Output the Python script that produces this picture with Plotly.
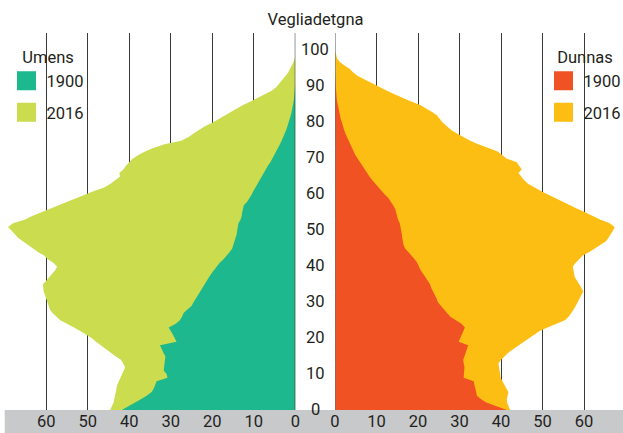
import plotly.graph_objects as go

# ---- data ----
ages = list(range(0, 101))

men_1900 = [41.8, 40.2, 38.7, 37.2, 35.8, 34.6, 34.1, 33.8, 33.4, 30.8,
            31.0, 31.7, 31.6, 31.4, 31.4, 31.3, 31.8, 32.2, 32.6, 28.6,
            29.0, 29.5, 30.0, 30.5, 28.8, 27.8, 27.3, 26.9, 26.0, 25.0,
            24.5, 24.0, 23.4, 23.0, 22.3, 21.8, 21.3, 20.8, 20.2, 19.5,
            19.0, 18.2, 17.3, 16.5, 15.8, 15.2, 14.9, 14.6, 14.3, 14.1,
            14.0, 13.8, 13.7, 13.2, 12.9, 12.8, 12.6, 12.4, 11.6, 11.0,
            10.5, 10.1, 9.6, 9.1, 8.7, 8.2, 7.8, 7.2, 6.6, 6.0,
            5.5, 5.0, 4.6, 4.2, 3.7, 3.3, 2.9, 2.5, 2.2, 1.9,
            1.6, 1.3, 1.1, 0.9, 0.7, 0.5, 0.4, 0.3, 0.2, 0.1,
            0.0, 0.0, 0.0, 0.0, 0.0, 0.0, 0.0, 0.0, 0.0, 0.0, 0.0]

men_2016 = [44.6, 44.2, 43.8, 43.6, 43.4, 43.3, 43.1, 42.9, 42.5, 42.0,
            41.7, 41.3, 41.0, 41.5, 42.0, 43.3, 44.5, 45.8, 47.0, 48.0,
            49.0, 50.3, 51.8, 53.3, 55.0, 56.6, 57.5, 58.5, 59.1, 59.4,
            59.8, 60.1, 60.4, 60.6, 60.7, 60.8, 60.0, 59.2, 58.4, 57.8,
            57.4, 58.3, 59.6, 60.5, 62.0, 63.2, 64.5, 65.7, 66.8, 67.6,
            68.3, 69.2, 68.0, 65.2, 63.4, 61.3, 59.2, 56.8, 54.8, 52.8,
            50.5, 48.5, 46.0, 44.5, 43.4, 42.2, 42.4, 41.4, 40.8, 40.0,
            39.2, 37.8, 36.2, 34.2, 31.5, 27.5, 25.7, 24.5, 23.3, 21.8,
            20.0, 18.5, 17.2, 15.6, 14.0, 12.5, 10.6, 8.8, 7.0, 5.6,
            4.5, 3.8, 3.0, 2.3, 1.7, 1.3, 0.8, 0.4, 0.1, 0.05, 0.0]

women_1900 = [41.4, 38.8, 36.6, 35.2, 34.2, 34.0, 33.8, 33.6, 33.4, 31.0,
              31.1, 31.2, 31.2, 31.0, 30.9, 31.2, 31.5, 31.8, 32.1, 29.8,
              30.2, 30.6, 31.0, 31.3, 30.5, 29.0, 27.8, 27.0, 26.3, 25.5,
              24.8, 24.5, 24.0, 23.6, 23.2, 22.9, 22.4, 21.8, 21.2, 20.6,
              20.2, 19.8, 19.2, 18.4, 17.5, 16.9, 16.5, 16.3, 16.2, 16.1,
              15.9, 15.8, 15.6, 15.2, 15.0, 14.8, 14.5, 14.0, 13.5, 12.9,
              12.0, 11.2, 10.4, 9.7, 9.0, 8.3, 7.7, 7.1, 6.5, 5.9,
              5.4, 4.9, 4.5, 4.1, 3.6, 3.2, 2.8, 2.5, 2.2, 2.0,
              1.7, 1.4, 1.2, 1.0, 0.8, 0.7, 0.5, 0.4, 0.3, 0.25,
              0.2, 0.15, 0.1, 0.0, 0.0, 0.0, 0.0, 0.0, 0.0, 0.0, 0.0]

women_2016 = [42.2, 41.8, 41.5, 41.4, 41.6, 41.8, 41.3, 40.8, 40.3, 39.9,
              39.8, 39.6, 39.5, 39.4, 40.0, 40.9, 41.8, 43.0, 44.2, 45.6,
              46.8, 48.0, 49.3, 51.2, 53.5, 55.4, 56.3, 57.0, 57.5, 58.0,
              58.5, 58.9, 59.3, 59.8, 59.4, 58.8, 58.2, 57.8, 57.6, 57.4,
              57.3, 58.0, 58.8, 59.7, 61.3, 62.6, 64.0, 65.3, 65.9, 66.5,
              67.0, 67.4, 66.2, 64.0, 62.0, 60.4, 58.5, 56.6, 54.8, 53.0,
              51.3, 49.6, 48.0, 46.5, 45.6, 45.0, 44.2, 45.0, 44.5, 43.8,
              41.4, 40.2, 39.2, 37.0, 34.5, 32.6, 30.8, 29.4, 28.0, 26.9,
              26.0, 25.3, 24.6, 23.4, 21.8, 20.4, 18.2, 16.0, 14.2, 12.4,
              10.7, 8.8, 7.0, 5.5, 4.4, 3.6, 2.2, 1.1, 0.5, 0.2, 0.05]

x_ticks = [0, 10, 20, 30, 40, 50, 60, 70]
x_tick_labels = ["0", "10", "20", "30", "40", "50", "60", ""]
age_ticks = [0, 10, 20, 30, 40, 50, 60, 70, 80, 90, 100]

title_text = "Vegliadetgna"
men_title = "Umens"
women_title = "Dunnas"
years = ["1900", "2016"]

# ---- styles ----
FONT = "Roboto, sans-serif"
FS = 16.5
TXT = "#231f20"
C_MEN = {"1900": "#1db88e", "2016": "#cbdc4f"}
C_WOMEN = {"1900": "#f05223", "2016": "#fdbe14"}
GRID = "#3a3a3a"
W, H = 623, 433
ML, MR, MT, MB = 0, 0, 33, 23

fig = go.Figure()

men_series = {"1900": men_1900, "2016": men_2016}
women_series = {"1900": women_1900, "2016": women_2016}
for yr in ["2016", "1900"]:
    fig.add_trace(go.Scatter(x=men_series[yr], y=ages, mode="lines", fill="tozerox",
                             fillcolor=C_MEN[yr], line=dict(width=0, color=C_MEN[yr]),
                             xaxis="x", yaxis="y", showlegend=False, hoverinfo="skip"))
    fig.add_trace(go.Scatter(x=women_series[yr], y=ages, mode="lines", fill="tozerox",
                             fillcolor=C_WOMEN[yr], line=dict(width=0, color=C_WOMEN[yr]),
                             xaxis="x2", yaxis="y2", showlegend=False, hoverinfo="skip"))

# legend entries (square swatches)
for yr in years:
    fig.add_trace(go.Scatter(x=[None], y=[None], mode="markers", name=yr,
                             marker=dict(symbol="square", size=16, color=C_MEN[yr],
                                         line=dict(width=3, color=C_MEN[yr])),
                             legend="legend", legendgroup="m" + yr, xaxis="x", yaxis="y"))
    fig.add_trace(go.Scatter(x=[None], y=[None], mode="markers", name=yr,
                             marker=dict(symbol="square", size=16, color=C_WOMEN[yr],
                                         line=dict(width=3, color=C_WOMEN[yr])),
                             legend="legend2", legendgroup="w" + yr, xaxis="x2", yaxis="y2"))

plot_h = H - MT - MB
left_dom = [4.7 / W, 295.3 / W]
right_dom = [335.0 / W, 1.0]
right_max = (W - 335.0) / 4.15

axis_common = dict(tickvals=x_ticks, ticktext=x_tick_labels, showgrid=True, gridcolor=GRID,
                   gridwidth=1, zeroline=False, showline=False, ticks="", automargin=False,
                   ticklabelstandoff=-1,
                   tickfont=dict(family=FONT, size=FS, color=TXT), fixedrange=True)

legend_common = dict(xanchor="left", yref="container", xref="container",
                     y=1 - 42 / H, yanchor="top", bgcolor="rgba(0,0,0,0)",
                     font=dict(family=FONT, size=FS, color=TXT),
                     tracegroupgap=7, indentation=0, itemclick=False, itemdoubleclick=False)
title_font = dict(family=FONT, size=FS, color=TXT)

fig.update_layout(
    width=W, height=H,
    margin=dict(l=ML, r=MR, t=MT, b=MB, pad=0, autoexpand=False),
    paper_bgcolor="white", plot_bgcolor="rgba(0,0,0,0)",
    font=dict(family=FONT, size=FS, color=TXT),
    title=dict(text=title_text, x=315.5 / W, xanchor="center", xref="paper",
               y=1 - 19.5 / H, yanchor="middle", yref="container", font=title_font),
    xaxis=dict(domain=left_dom, range=[70, 0], anchor="y", **axis_common),
    xaxis2=dict(domain=right_dom, range=[0, right_max], anchor="y2", **axis_common),
    yaxis=dict(range=[0, 105], visible=False, fixedrange=True),
    yaxis2=dict(range=[0, 105], visible=False, anchor="x2", matches="y", fixedrange=True),
    legend=dict(title=dict(text=men_title, font=title_font, side="top center"),
                x=6.5 / W, **legend_common),
    legend2=dict(title=dict(text=women_title, font=title_font, side="top center"),
                 x=543.5 / W, **legend_common),
    shapes=[
        dict(type="rect", xref="paper", yref="paper", x0=4.7 / W, x1=1.0,
             y0=-(MB + 2) / plot_h, y1=0, fillcolor="#c8c9cb", line=dict(width=0), layer="below"),
        dict(type="line", xref="x", yref="paper", x0=0, x1=0, y0=0, y1=1,
             line=dict(color="#111111", width=1), layer="above"),
        dict(type="line", xref="x2", yref="paper", x0=0, x1=0, y0=0, y1=1,
             line=dict(color="#6e6e6e", width=1.2), layer="above"),
    ],
    showlegend=True,
)

# age labels between the two panels
for a in age_ticks:
    fig.add_annotation(x=315 / W, xref="paper", y=a, yref="y2", text=str(a),
                       showarrow=False, xanchor="center", yanchor="middle", yshift=1,
                       font=dict(family=FONT, size=FS, color=TXT))

fig.write_html("out.html", config={"displayModeBar": False, "staticPlot": True},
               post_script="document.body.style.margin='0';document.body.style.padding='0';")
